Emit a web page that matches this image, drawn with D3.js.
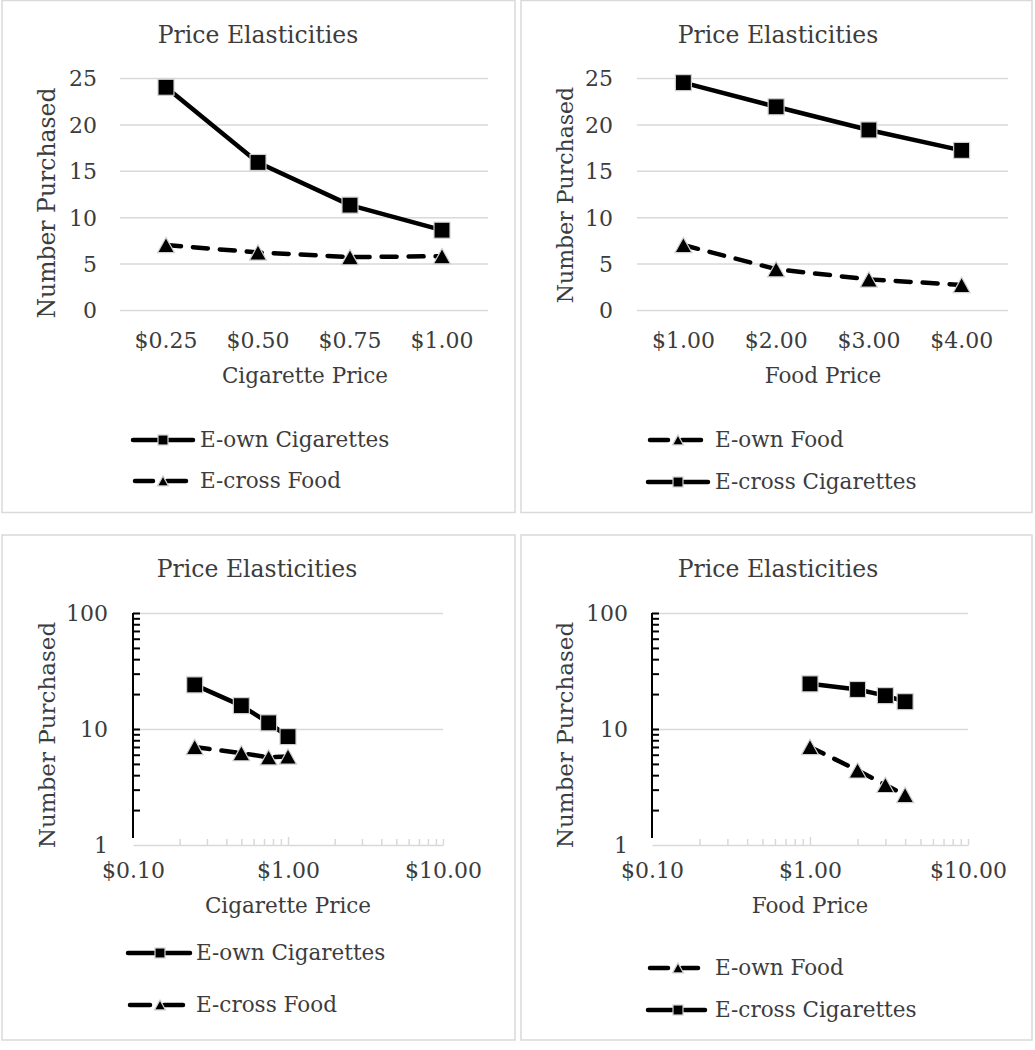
<!DOCTYPE html>
<html><head><meta charset="utf-8">
<script src="https://cdn.jsdelivr.net/npm/d3@7"></script>
<style>
body{margin:0;background:#fff}
svg{display:block}
text{font-family:"DejaVu Serif",serif;fill:#3c3c3c}
</style>
</head><body><svg id="c" width="1035" height="1050"></svg>
<script>
// ---- data ----
const chartTitle = "Price Elasticities";
const yAxisTitle = "Number Purchased";
const cigaretteAxisTitle = "Cigarette Price";
const foodAxisTitle = "Food Price";
const cigarettePrices = [0.25, 0.5, 0.75, 1.0];
const cigaretteLabels = ["$0.25", "$0.50", "$0.75", "$1.00"];
const foodPrices = [1, 2, 3, 4];
const foodLabels = ["$1.00", "$2.00", "$3.00", "$4.00"];
const eOwnCigarettes = [24.0, 15.9, 11.3, 8.6];
const eCrossFood = [7.0, 6.2, 5.7, 5.8];
const eOwnFood = [7.0, 4.4, 3.3, 2.7];
const eCrossCigarettes = [24.5, 21.9, 19.4, 17.2];
const linearYTicks = [0, 5, 10, 15, 20, 25];
const logYTicks = [1, 10, 100];
const logXTicks = [0.1, 1, 10];
const logXLabels = ["$0.10", "$1.00", "$10.00"];

// ---- style ----
const GRID = "#d9d9d9", BORDER = "#d9d9d9", INK = "#000", TXT = "#3c3c3c";
const DASH = "15,12";
const LW = 4.5;
const TICK_FS = "22px";
const svg = d3.select("#c");

const panels = [
  { box:[2,0.5,513,512], type:"linear", titleX:258, titleY:43, xr:[120,488], yr:[310,78],
    labelRight:97, xLabelY:348, xLabels:cigaretteLabels, xValues:cigarettePrices,
    xTitle:cigaretteAxisTitle, xTitleX:305, xTitleY:383, yTitleX:47, yTitleY:203, yTitleSize:23.5,
    series:[{name:"E-own Cigarettes", v:eOwnCigarettes, m:"square", dash:false},
            {name:"E-cross Food", v:eCrossFood, m:"tri", dash:true}],
    legend:{x0:133, x1:193, mx:163, tx:200, rows:[440,481]} },
  { box:[521,0.5,511,512], type:"linear", titleX:778, titleY:43, xr:[637,1008], yr:[310,78],
    labelRight:613, xLabelY:348, xLabels:foodLabels, xValues:foodPrices,
    xTitle:foodAxisTitle, xTitleX:823, xTitleY:383, yTitleX:565, yTitleY:195, yTitleSize:22,
    series:[{name:"E-own Food", v:eOwnFood, m:"tri", dash:true},
            {name:"E-cross Cigarettes", v:eCrossCigarettes, m:"square", dash:false}],
    legend:{x0:648, x1:708, mx:678, tx:715, rows:[440,482]} },
  { box:[2,535,513,505], type:"log", titleX:257, titleY:577, xr:[133,443], yr:[845,613],
    labelRight:108, xLabelY:878, xValues:cigarettePrices,
    xTitle:cigaretteAxisTitle, xTitleX:288, xTitleY:913, yTitleX:47, yTitleY:735, yTitleSize:23,
    series:[{name:"E-own Cigarettes", v:eOwnCigarettes, m:"square", dash:false},
            {name:"E-cross Food", v:eCrossFood, m:"tri", dash:true}],
    legend:{x0:128, x1:190, mx:160, tx:196, rows:[953,1005]} },
  { box:[521,535,511,505], type:"log", titleX:778, titleY:577, xr:[652,968], yr:[845,613],
    labelRight:628, xLabelY:878, xValues:foodPrices,
    xTitle:foodAxisTitle, xTitleX:810, xTitleY:913, yTitleX:565, yTitleY:735, yTitleSize:23,
    series:[{name:"E-own Food", v:eOwnFood, m:"tri", dash:true},
            {name:"E-cross Cigarettes", v:eCrossCigarettes, m:"square", dash:false}],
    legend:{x0:648, x1:705, mx:678, tx:715, rows:[968,1010]} }
];

function marker(g, type, cx, cy, s) {
  if (type === "square") {
    g.append("rect").attr("x", cx - s/2).attr("y", cy - s/2).attr("width", s).attr("height", s)
      .attr("fill", INK).attr("stroke", "#d0d0d0").attr("stroke-width", 1.2);
  } else {
    const h = s * 0.9;
    g.append("path").attr("d", `M${cx},${cy - h/2}L${cx + s/2},${cy + h/2}L${cx - s/2},${cy + h/2}Z`)
      .attr("fill", INK).attr("stroke", "#d0d0d0").attr("stroke-width", 1.2);
  }
}

function styleTickText(sel) {
  sel.style("font-size", TICK_FS).attr("fill", TXT).style("font-family", "DejaVu Serif");
}

function drawPanel(p) {
  const g = svg.append("g");
  g.append("rect").attr("x", p.box[0]).attr("y", p.box[1]).attr("width", p.box[2]).attr("height", p.box[3])
    .attr("fill", "#fff").attr("stroke", BORDER).attr("stroke-width", 1.5);
  g.append("text").attr("x", p.titleX).attr("y", p.titleY).attr("text-anchor", "middle")
    .style("font-size", "23.5px").text(chartTitle);

  let x, y, px;
  if (p.type === "linear") {
    x = d3.scaleBand().domain(p.xLabels).range(p.xr);
    y = d3.scaleLinear().domain([0, 25]).range(p.yr);
    px = i => x(p.xLabels[i]) + x.bandwidth() / 2;
    const grid = g.append("g").attr("transform", `translate(${p.xr[0]},0)`)
      .call(d3.axisLeft(y).tickValues(linearYTicks).tickSize(-(p.xr[1] - p.xr[0])).tickFormat(""));
    grid.select(".domain").remove();
    grid.selectAll("line").attr("stroke", GRID).attr("stroke-width", 1.5);
    const yl = g.append("g").attr("transform", `translate(${p.labelRight},0)`)
      .call(d3.axisLeft(y).tickValues(linearYTicks).tickSize(0).tickPadding(0));
    yl.select(".domain").remove();
    styleTickText(yl.selectAll("text").attr("dy", "0.36em"));
    const xl = g.append("g").attr("transform", `translate(0,${p.xLabelY})`)
      .call(d3.axisBottom(x).tickSize(0).tickPadding(0));
    xl.select(".domain").remove();
    styleTickText(xl.selectAll("text").attr("y", 0).attr("dy", null));
  } else {
    x = d3.scaleLog().domain([0.1, 10]).range(p.xr);
    y = d3.scaleLog().domain([1, 100]).range(p.yr);
    px = i => x(p.xValues[i]);
    const grid = g.append("g").attr("transform", `translate(${p.xr[0]},0)`)
      .call(d3.axisLeft(y).tickValues([10, 100]).tickSize(-(p.xr[1] - p.xr[0])).tickFormat(""));
    grid.select(".domain").remove();
    grid.selectAll("line").attr("stroke", GRID).attr("stroke-width", 1.5);
    // x axis (gray) with minor ticks
    const minorX = [], minorY = [];
    [0.1, 1].forEach(d => { for (let k = 2; k <= 9; k++) minorX.push(+(d * k).toFixed(2)); });
    [1, 10].forEach(d => { for (let k = 2; k <= 9; k++) minorY.push(d * k); });
    const xa = g.append("g").attr("transform", `translate(0,${p.yr[0]})`)
      .call(d3.axisBottom(x).tickValues(minorX.concat([10])).tickSize(-6).tickSizeOuter(0).tickFormat(""));
    xa.selectAll("path,line").attr("stroke", GRID).attr("stroke-width", 1.5);
    const xm = g.append("g").attr("transform", `translate(0,${p.yr[0]})`)
      .call(d3.axisBottom(x).tickValues([1]).tickSize(-8).tickSizeOuter(0).tickFormat(""));
    xm.select(".domain").remove();
    xm.selectAll("line").attr("stroke", GRID).attr("stroke-width", 1.5);
    // y axis (black) with minor ticks
    const ya = g.append("g").attr("transform", `translate(${p.xr[0]},0)`)
      .call(d3.axisRight(y).tickValues(minorY.concat([10, 100])).tickSize(7).tickSizeOuter(0).tickFormat(""));
    ya.select(".domain").attr("d", `M0,${p.yr[1]}V${p.yr[0] - 7}`);
    ya.selectAll("path,line").attr("stroke", INK).attr("stroke-width", 2);
    const yl = g.append("g").attr("transform", `translate(${p.labelRight},0)`)
      .call(d3.axisLeft(y).tickValues(logYTicks).tickSize(0).tickPadding(0).tickFormat(d3.format("d")));
    yl.select(".domain").remove();
    styleTickText(yl.selectAll("text").attr("dy", "0.36em"));
    const xl = g.append("g").attr("transform", `translate(0,${p.xLabelY})`)
      .call(d3.axisBottom(x).tickValues(logXTicks).tickSize(0).tickPadding(0)
        .tickFormat((d, i) => logXLabels[i]));
    xl.select(".domain").remove();
    styleTickText(xl.selectAll("text").attr("y", 0).attr("dy", null));
  }

  // axis titles
  g.append("text").attr("transform", `translate(${p.yTitleX},${p.yTitleY}) rotate(-90)`)
    .attr("text-anchor", "middle").attr("dy", "0.35em").style("font-size", p.yTitleSize + "px").text(yAxisTitle);
  g.append("text").attr("x", p.xTitleX).attr("y", p.xTitleY).attr("text-anchor", "middle")
    .style("font-size", "21.5px").text(p.xTitle);

  // series
  p.series.forEach(s => {
    const line = d3.line().x((d, i) => px(i)).y(d => y(d));
    g.append("path").datum(s.v).attr("d", line).attr("fill", "none").attr("stroke", INK)
      .attr("stroke-width", LW).attr("stroke-linejoin", "round")
      .attr("stroke-linecap", s.dash ? "round" : "butt")
      .attr("stroke-dasharray", s.dash ? DASH : null);
  });
  p.series.forEach(s => {
    s.v.forEach((d, i) => marker(g, s.m, px(i), y(d), s.m === "square" ? 16 : 17));
  });

  // legend
  const L = p.legend;
  p.series.forEach((s, j) => {
    const ry = L.rows[j];
    if (s.dash) {
      g.append("line").attr("x1", L.x0 + 2).attr("x2", L.mx - 10).attr("y1", ry).attr("y2", ry)
        .attr("stroke", INK).attr("stroke-width", LW).attr("stroke-linecap", "round");
      g.append("line").attr("x1", L.mx + 4).attr("x2", L.x1 - 7).attr("y1", ry).attr("y2", ry)
        .attr("stroke", INK).attr("stroke-width", LW).attr("stroke-linecap", "round");
    } else {
      g.append("line").attr("x1", L.x0).attr("x2", L.x1).attr("y1", ry).attr("y2", ry)
        .attr("stroke", INK).attr("stroke-width", LW).attr("stroke-linecap", "round");
    }
    marker(g, s.m, L.mx, ry, s.m === "square" ? 10 : 11);
    g.append("text").attr("x", L.tx).attr("y", ry + 7).style("font-size", "21.5px").text(s.name);
  });
}

panels.forEach(drawPanel);
</script>
</body></html>
